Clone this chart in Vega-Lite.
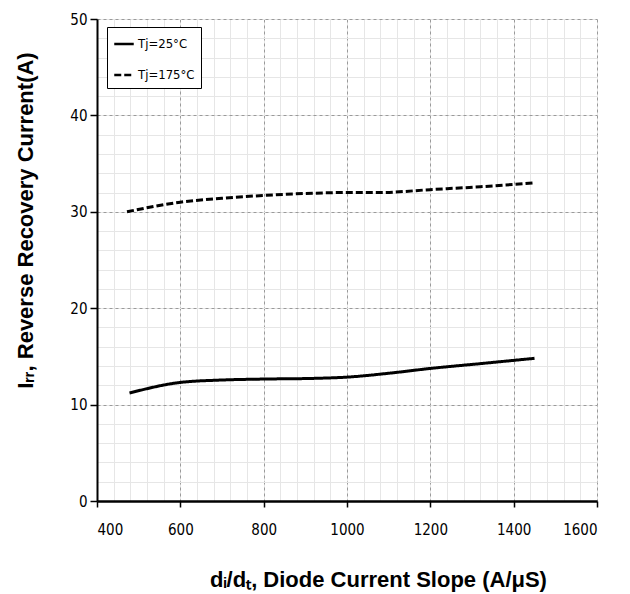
{
  "$schema": "https://vega.github.io/schema/vega-lite/v6.json",
  "width": 500,
  "height": 482,
  "autosize": "none",
  "padding": {"left": 97, "top": 19, "right": 33, "bottom": 93},
  "background": "white",
  "config": {"view": {"stroke": null}},
  "data": {"values": [
    {"x": 472, "y": 30.0, "series": "Tj=175°C"},
    {"x": 600, "y": 31.0, "series": "Tj=175°C"},
    {"x": 700, "y": 31.4, "series": "Tj=175°C"},
    {"x": 800, "y": 31.7, "series": "Tj=175°C"},
    {"x": 900, "y": 31.9, "series": "Tj=175°C"},
    {"x": 1000, "y": 32.0, "series": "Tj=175°C"},
    {"x": 1080, "y": 32.0, "series": "Tj=175°C"},
    {"x": 1200, "y": 32.3, "series": "Tj=175°C"},
    {"x": 1320, "y": 32.6, "series": "Tj=175°C"},
    {"x": 1450, "y": 33.0, "series": "Tj=175°C"},
    {"x": 478, "y": 11.2, "series": "Tj=25°C"},
    {"x": 600, "y": 12.3, "series": "Tj=25°C"},
    {"x": 700, "y": 12.55, "series": "Tj=25°C"},
    {"x": 800, "y": 12.65, "series": "Tj=25°C"},
    {"x": 920, "y": 12.72, "series": "Tj=25°C"},
    {"x": 1000, "y": 12.85, "series": "Tj=25°C"},
    {"x": 1100, "y": 13.25, "series": "Tj=25°C"},
    {"x": 1200, "y": 13.75, "series": "Tj=25°C"},
    {"x": 1320, "y": 14.25, "series": "Tj=25°C"},
    {"x": 1450, "y": 14.8, "series": "Tj=25°C"}
  ]},
  "resolve": {"axis": {"x": "independent", "y": "independent"}},
  "layer": [
    {
      "mark": {"type": "line", "opacity": 0},
      "encoding": {
        "x": {"field": "x", "type": "quantitative", "scale": {"domain": [400, 1600], "nice": false, "zero": false},
          "axis": {"orient": "bottom", "values": [400,440,480,520,560,600,640,680,720,760,800,840,880,920,960,1000,1040,1080,1120,1160,1200,1240,1280,1320,1360,1400,1440,1480,1520,1560,1600],
            "grid": true, "gridColor": "#e6e6e6", "gridWidth": 1, "labels": false, "ticks": false, "domain": false, "title": null}},
        "y": {"field": "y", "type": "quantitative", "scale": {"domain": [0, 50], "nice": false},
          "axis": {"orient": "left", "values": [0,2,4,6,8,10,12,14,16,18,20,22,24,26,28,30,32,34,36,38,40,42,44,46,48,50],
            "grid": true, "gridColor": "#e6e6e6", "gridWidth": 1, "labels": false, "ticks": false, "domain": false, "title": null}},
        "detail": {"field": "series"}
      }
    },
    {
      "mark": {"type": "line", "interpolate": "monotone", "strokeWidth": 3, "color": "black"},
      "encoding": {
        "x": {"field": "x", "type": "quantitative", "scale": {"domain": [400, 1600], "nice": false, "zero": false},
          "axis": {"orient": "bottom", "values": [400,600,800,1000,1200,1400,1600], "format": "d",
            "grid": true, "gridColor": "#9a9a9a", "gridDash": [3, 3], "gridWidth": 1,
            "domain": true, "domainColor": "black", "domainWidth": 2.5,
            "ticks": true, "tickColor": "black", "tickWidth": 1.5, "tickSize": 6,
            "labelFont": "DejaVu Sans Condensed", "labelFontSize": 15, "labelColor": "black", "labelPadding": 15,
            "title": "dᵢ/dₜ, Diode Current Slope (A/μS)",
            "titleFont": "Liberation Sans", "titleFontSize": 22, "titleFontWeight": "bold", "titleColor": "black",
            "titleX": 281, "titleY": 78, "titleAlign": "center", "titleBaseline": "middle"}},
        "y": {"field": "y", "type": "quantitative", "scale": {"domain": [0, 50], "nice": false},
          "axis": {"orient": "left", "values": [0,10,20,30,40,50], "format": "d",
            "grid": true, "gridColor": "#9a9a9a", "gridDash": [3, 3], "gridWidth": 1,
            "domain": true, "domainColor": "black", "domainWidth": 2,
            "ticks": true, "tickColor": "black", "tickWidth": 1.5, "tickSize": 7,
            "labelFont": "DejaVu Sans Condensed", "labelFontSize": 15, "labelColor": "black", "labelPadding": 3,
            "title": "Iᵣᵣ, Reverse Recovery Current(A)",
            "titleFont": "Liberation Sans", "titleFontSize": 22, "titleFontWeight": "bold", "titleColor": "black",
            "titleX": -72, "titleY": 201, "titleAlign": "center", "titleBaseline": "middle", "titleAngle": -90}},
        "strokeDash": {"field": "series", "type": "nominal",
          "scale": {"domain": ["Tj=25°C", "Tj=175°C"], "range": [[1, 0], [7, 3]]},
          "legend": {"orient": "none", "legendX": 10, "legendY": 8, "title": null,
            "strokeColor": "black", "padding": 6, "fillColor": "white",
            "symbolType": "stroke", "symbolStrokeColor": "black", "symbolStrokeWidth": 2.5, "symbolSize": 380,
            "labelFont": "DejaVu Sans Condensed", "labelFontSize": 13, "labelColor": "black",
            "rowPadding": 13, "labelOffset": 3}}
      }
    }
  ]
}
